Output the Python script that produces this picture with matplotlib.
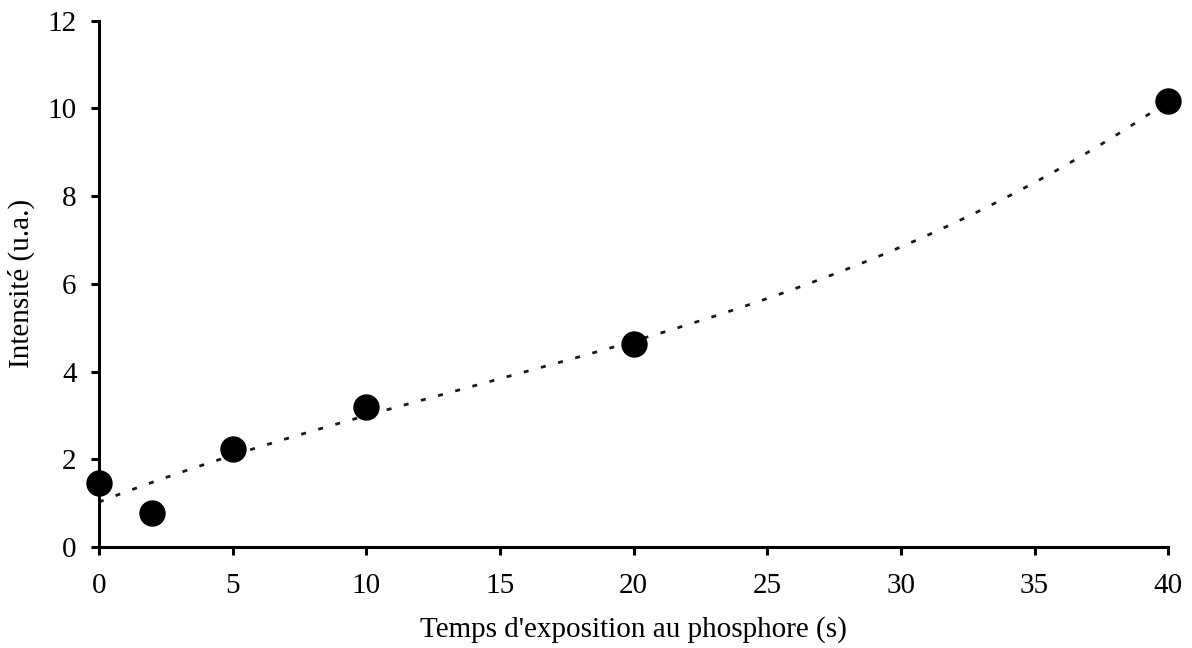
import numpy as np
import matplotlib
matplotlib.use("Agg")
from matplotlib import pyplot as plt

# data
temps = [0, 2, 5, 10, 20, 40]
intensite = [1.45, 0.78, 2.24, 3.18, 4.62, 10.17]

x_ticks = [0, 5, 10, 15, 20, 25, 30, 35, 40]
y_ticks = [0, 2, 4, 6, 8, 10, 12]

plt.rcParams['font.family'] = ['Liberation Serif', 'DejaVu Serif']

fig = plt.figure(figsize=(11.92, 6.48), dpi=100)
ax = fig.add_axes([0.083, 0.156, 0.897, 0.812])

# polynomial trend line through the points
coef = np.polyfit(temps, intensite, 3)
xs = np.linspace(0, 40, 300)
line, = ax.plot(xs, np.polyval(coef, xs), color='#1a1a1a', lw=2.0, zorder=2)
line.set_dashes([1.8, 4.6])

ax.plot(temps, intensite, 'o', color='black', markersize=18, zorder=3, clip_on=False)

ax.set_xlim(0, 40)
ax.set_ylim(0, 12)
ax.set_xticks(x_ticks)
ax.set_yticks(y_ticks)

for side in ['top', 'right']:
    ax.spines[side].set_visible(False)
for side in ['left', 'bottom']:
    ax.spines[side].set_linewidth(2.2)
ax.tick_params(direction='out', length=6, width=2.2, labelsize=21)
ax.tick_params(axis='x', pad=13)
ax.tick_params(axis='y', pad=10)

ax.set_xlabel("Temps d'exposition au phosphore (s)", fontsize=21, labelpad=12)
ax.set_ylabel("Intensité (u.a.)", fontsize=21, labelpad=9)

fig.savefig("out.png", dpi=100)
